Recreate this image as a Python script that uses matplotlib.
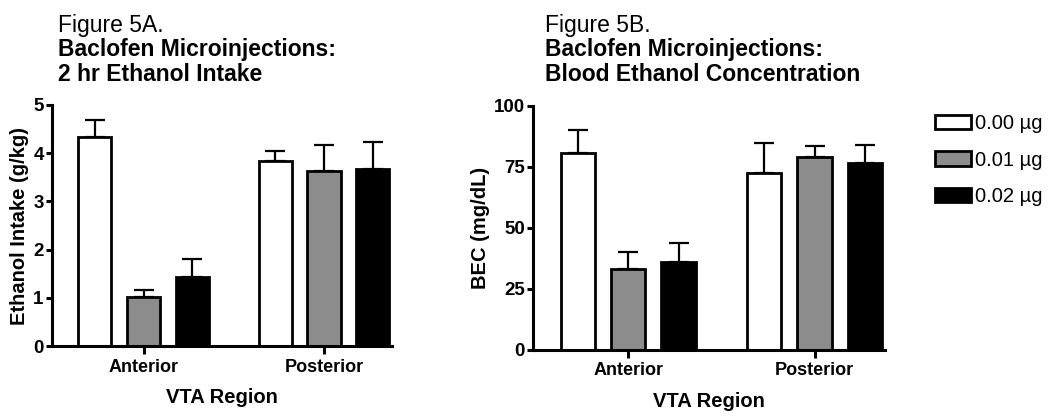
import matplotlib.pyplot as plt
import numpy as np

plt.rcParams['font.family'] = ['Liberation Sans', 'DejaVu Sans']

regions = ["Anterior", "Posterior"]
doses = ["0.00 µg", "0.01 µg", "0.02 µg"]
colors = ["white", "#8c8c8c", "black"]

# ethanol intake (g/kg), mean and SEM per dose, [anterior, posterior]
intake_mean = [[4.33, 3.83], [1.01, 3.62], [1.44, 3.68]]
intake_err = [[0.36, 0.22], [0.15, 0.54], [0.36, 0.55]]

# blood ethanol concentration (mg/dL)
bec_mean = [[80.8, 72.6], [33.0, 79.1], [36.0, 76.4]]
bec_err = [[9.4, 12.1], [7.0, 4.4], [7.9, 7.5]]

group_x = np.array([0, 3.7])
offsets = [-1, 0, 1]
width = 0.68

fig = plt.figure(figsize=(10.5, 4.18), dpi=100)
ax1 = fig.add_axes([0.0495, 0.172, 0.324, 0.577])
ax2 = fig.add_axes([0.508, 0.163, 0.335, 0.584])


def draw(ax, means, errs, ylim, yticks, ylabel):
    handles = []
    for i in range(3):
        b = ax.bar(group_x + offsets[i], means[i], width, color=colors[i],
                   edgecolor="black", linewidth=2.0, zorder=2)
        ax.errorbar(group_x + offsets[i], means[i],
                    yerr=[np.zeros(2), errs[i]], fmt="none", ecolor="black",
                    elinewidth=1.6, capsize=7, capthick=1.6, zorder=1)
        handles.append(b)
    ax.set_xlim(-1.88, 5.1)
    ax.set_ylim(*ylim)
    ax.set_yticks(yticks)
    ax.set_xticks(group_x)
    ax.set_xticklabels(regions, fontsize=13, fontweight="bold")
    for lab in ax.get_yticklabels():
        lab.set_fontsize(13.5)
        lab.set_fontweight("bold")
    ax.spines["top"].set_visible(False)
    ax.spines["right"].set_visible(False)
    ax.spines["left"].set_linewidth(2.2)
    ax.spines["bottom"].set_linewidth(2.2)
    ax.tick_params(axis="y", width=2.2, length=4, direction="out", pad=2)
    ax.tick_params(axis="x", width=2.2, length=6, direction="out", pad=3)
    ax.set_ylabel(ylabel, fontsize=14.5, fontweight="bold", labelpad=3)
    ax.set_xlabel("VTA Region", fontsize=14.5, fontweight="bold", labelpad=9)
    return handles


h = draw(ax1, intake_mean, intake_err, (0, 5), [0, 1, 2, 3, 4, 5],
         "Ethanol Intake (g/kg)")
draw(ax2, bec_mean, bec_err, (0, 100), [0, 25, 50, 75, 100], "BEC (mg/dL)")

titles = [
    (0.055, "Figure 5A.", "Baclofen Microinjections:", "2 hr Ethanol Intake"),
    (0.519, "Figure 5B.", "Baclofen Microinjections:", "Blood Ethanol Concentration"),
]
for x, fig_label, line1, line2 in titles:
    fig.text(x, 0.923, fig_label, fontsize=16.5, va="baseline")
    fig.text(x, 0.866, line1, fontsize=16.5, fontweight="bold", va="baseline")
    fig.text(x, 0.806, line2, fontsize=16.5, fontweight="bold", va="baseline")

fig.legend(h, doses, loc="upper left", bbox_to_anchor=(0.877, 0.76),
           frameon=False, fontsize=14.5, handlelength=1.8, handleheight=0.7,
           handletextpad=0.2, labelspacing=0.85, borderpad=0.2)

fig.savefig("out.png", dpi=100)
